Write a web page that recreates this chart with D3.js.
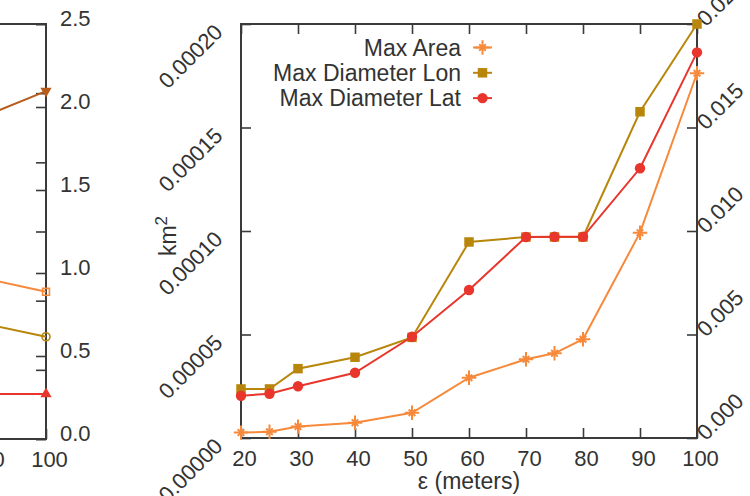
<!DOCTYPE html>
<html lang="en">
<head>
  <meta charset="UTF-8">
  <title>Max extent vs epsilon</title>
  <style>
    body { margin: 0; background: #fff; }
    svg { display: block; font-family: "Liberation Sans", Arial, sans-serif; }
  </style>
</head>
<body>
  <svg width="750" height="496"></svg>
  <script src="https://d3js.org/d3.v7.min.js"></script>
  <script>

  // ---- data (main panel) ----
  var eps = [20, 25, 30, 40, 50, 60, 70, 75, 80, 90, 100];
  var maxArea = [2.6e-6, 3.0e-6, 5.5e-6, 7.4e-6, 1.22e-5, 2.91e-5, 3.80e-5, 4.09e-5, 4.77e-5, 9.92e-5, 1.762e-4];
  var maxLon  = [2.37e-5, 2.37e-5, 3.35e-5, 3.90e-5, 4.86e-5, 9.47e-5, 9.71e-5, 9.71e-5, 9.71e-5, 1.576e-4, 2.0e-4];
  var maxLat  = [2.04e-5, 2.14e-5, 2.50e-5, 3.15e-5, 4.89e-5, 7.15e-5, 9.71e-5, 9.72e-5, 9.72e-5, 1.303e-4, 1.863e-4];
  var xTicks = [20, 30, 40, 50, 60, 70, 80, 90, 100];
  var yTicks = [0, 5e-5, 1e-4, 1.5e-4, 2e-4];
  var y2Ticks = [0, 0.005, 0.010, 0.015, 0.020];

  // ---- data (neighbour panel, only its right edge is in frame) ----
  var leftEps = [90, 100];
  var leftSquare = [0.962, 0.887];
  var leftCircle = [0.688, 0.616];
  var leftTri = [0.271, 0.271];
  var leftDown = [1.955, 2.096];
  var leftY2Ticks = [0, 0.5, 1.0, 1.5, 2.0, 2.5];
  var leftY1Ticks = [0, 1, 2, 3, 4, 5, 6];

  var svg = d3.select('svg');
  var ink = '#3a3a3a';
  var fs = 22;     // tick labels
  var fsT = 23;    // legend + axis titles

  var cArea = '#f7893a', cLon = '#b8860b', cLat = '#e8362c', cDown = '#b85c1c';

  // ================= main panel =================
  var x = d3.scaleLinear().domain([20, 100]).range([241, 697]);
  var y = d3.scaleLinear().domain([0, 2e-4]).range([438, 24]);
  var y2 = d3.scaleLinear().domain([0, 0.02]).range([438, 24]);

  var g = svg.append('g');

  function styleAxis(sel) {
    sel.select('.domain').remove();
    sel.selectAll('line').attr('stroke', ink).attr('stroke-width', 1.6);
    sel.selectAll('text').attr('fill', '#333').style('font-size', fs + 'px');
  }

  g.append('g').attr('transform', 'translate(0,438)')
    .call(d3.axisBottom(x).tickValues(xTicks).tickSize(-10).tickPadding(12).tickFormat(d3.format('d')))
    .call(styleAxis)
    .selectAll('text').attr('dx', 3);

  g.append('g').attr('transform', 'translate(0,24)')
    .call(d3.axisTop(x).tickValues(xTicks).tickSize(-10).tickFormat(''))
    .call(styleAxis);

  var yl = g.append('g').attr('transform', 'translate(241,0)')
    .call(d3.axisLeft(y).tickValues(yTicks).tickSize(-10).tickFormat(d3.format('.5f')))
    .call(styleAxis);
  yl.selectAll('text')
    .attr('x', 0).attr('dy', 0)
    .attr('text-anchor', 'end')
    .attr('transform', 'translate(-17,9) rotate(-45)');

  var yr = g.append('g').attr('transform', 'translate(697,0)')
    .call(d3.axisRight(y2).tickValues(y2Ticks).tickSize(-10).tickFormat(d3.format('.3f')))
    .call(styleAxis);
  yr.selectAll('text')
    .attr('x', 0).attr('dy', 0)
    .attr('text-anchor', 'start')
    .attr('transform', 'translate(9,3) rotate(-45)');

  g.append('rect')
    .attr('x', x(20)).attr('y', y(2e-4))
    .attr('width', x(100) - x(20)).attr('height', y(0) - y(2e-4))
    .attr('fill', 'none').attr('stroke', ink).attr('stroke-width', 2);

  // axis titles
  var kt = g.append('text')
    .attr('transform', 'translate(176,236) rotate(-90)')
    .attr('text-anchor', 'middle')
    .attr('fill', '#333').style('font-size', fsT + 'px');
  kt.append('tspan').text('km');
  kt.append('tspan').attr('dy', -9).style('font-size', '17px').text('2');

  g.append('text')
    .attr('x', 469).attr('y', 489)
    .attr('text-anchor', 'middle')
    .attr('fill', '#333').style('font-size', fsT + 'px')
    .text('ε (meters)');

  var series = [
    { name: 'Max Area', vals: maxArea, color: cArea, mark: 'star' },
    { name: 'Max Diameter Lon', vals: maxLon, color: cLon, mark: 'square' },
    { name: 'Max Diameter Lat', vals: maxLat, color: cLat, mark: 'circle' }
  ];

  var line = d3.line()
    .x(function(d) { return x(d[0]); })
    .y(function(d) { return y(d[1]); });

  function drawMark(sel, kind, color) {
    if (kind === 'star') {
      sel.append('path').attr('d', d3.symbol(d3.symbolPlus, 70)())
        .attr('fill', 'none').attr('stroke', color).attr('stroke-width', 2);
      sel.append('path').attr('d', d3.symbol(d3.symbolTimes, 30)())
        .attr('fill', 'none').attr('stroke', color).attr('stroke-width', 2);
    } else if (kind === 'square') {
      sel.append('path').attr('d', d3.symbol(d3.symbolSquare, 90)()).attr('fill', color);
    } else if (kind === 'circle') {
      sel.append('path').attr('d', d3.symbol(d3.symbolCircle, 85)()).attr('fill', color);
    }
  }

  series.forEach(function(s) {
    var pts = eps.map(function(e, i) { return [e, s.vals[i]]; });
    g.append('path').datum(pts)
      .attr('d', line)
      .attr('fill', 'none').attr('stroke', s.color).attr('stroke-width', 2);
    g.selectAll(null).data(pts).enter().append('g')
      .attr('transform', function(d) { return 'translate(' + x(d[0]) + ',' + y(d[1]) + ')'; })
      .each(function() { drawMark(d3.select(this), s.mark, s.color); });
  });

  // legend
  series.forEach(function(s, i) {
    var ly = 47.5 + i * 25.3;
    g.append('text')
      .attr('x', 461).attr('y', ly + 8)
      .attr('text-anchor', 'end')
      .attr('fill', '#333').style('font-size', fsT + 'px')
      .text(s.name);
    g.append('line')
      .attr('x1', 473).attr('x2', 492).attr('y1', ly).attr('y2', ly)
      .attr('stroke', s.color).attr('stroke-width', 2);
    drawMark(g.append('g').attr('transform', 'translate(482.5,' + ly + ')'), s.mark, s.color);
  });

  // ================= neighbour panel (cropped) =================
  var lx = d3.scaleLinear().domain([20, 100]).range([46 - 456, 46]);
  var ly2 = d3.scaleLinear().domain([0, 2.5]).range([439, 24]);
  var ly1 = d3.scaleLinear().domain([0, 6]).range([439, 24]);

  var lg = svg.append('g');

  lg.append('g').attr('transform', 'translate(0,439)')
    .call(d3.axisBottom(lx).tickValues([90, 100]).tickSize(-10).tickPadding(12).tickFormat(d3.format('d')))
    .call(styleAxis)
    .selectAll('text').attr('dx', 3);

  lg.append('g').attr('transform', 'translate(46,0)')
    .call(d3.axisRight(ly2).tickValues(leftY2Ticks).tickSize(-10).tickPadding(14).tickFormat(d3.format('.1f')))
    .call(styleAxis)
    .selectAll('text').attr('x', 14).attr('dy', 0).attr('y', 1);

  lg.append('g').attr('transform', 'translate(46,0)')
    .call(d3.axisRight(ly1).tickValues(leftY1Ticks).tickSize(-10).tickFormat(''))
    .call(styleAxis);

  lg.append('path')
    .attr('d', 'M0,24H46V439H0')
    .attr('fill', 'none').attr('stroke', ink).attr('stroke-width', 2);

  var leftSeries = [
    { vals: leftSquare, color: cArea, sym: d3.symbolSquare2, size: 60, filled: false },
    { vals: leftCircle, color: cLon, sym: d3.symbolCircle, size: 50, filled: false },
    { vals: leftTri, color: cLat, sym: d3.symbolTriangle, size: 55, filled: true },
    { vals: leftDown, color: cDown, sym: d3.symbolTriangle, size: 55, filled: true, flip: true }
  ];

  var lline = d3.line()
    .x(function(d) { return lx(d[0]); })
    .y(function(d) { return ly2(d[1]); });

  leftSeries.forEach(function(s) {
    var pts = leftEps.map(function(e, i) { return [e, s.vals[i]]; });
    lg.append('path').datum(pts)
      .attr('d', lline)
      .attr('fill', 'none').attr('stroke', s.color).attr('stroke-width', 2);
    lg.selectAll(null).data(pts).enter().append('path')
      .attr('transform', function(d) {
        return 'translate(' + lx(d[0]) + ',' + ly2(d[1]) + ')' + (s.flip ? ' rotate(180)' : '');
      })
      .attr('d', d3.symbol(s.sym, s.size)())
      .attr('fill', s.filled ? s.color : 'none')
      .attr('stroke', s.color).attr('stroke-width', s.filled ? 0 : 1.6);
  });

  </script>
</body>
</html>
